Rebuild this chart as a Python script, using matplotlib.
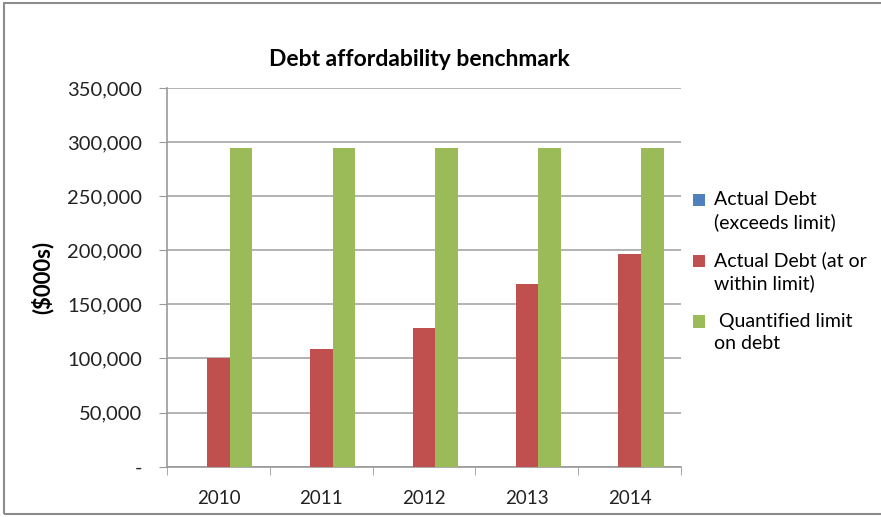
import numpy as np
import matplotlib.pyplot as plt
from matplotlib.patches import Rectangle
from matplotlib.ticker import FuncFormatter
from matplotlib.container import BarContainer
from matplotlib.legend_handler import HandlerPatch

years = ["2010", "2011", "2012", "2013", "2014"]
exceeds = [0, 0, 0, 0, 0]
within = [100000, 109000, 128000, 169000, 197000]
limit = [295000, 295000, 295000, 295000, 295000]
labels = ["Actual Debt\n(exceeds limit)", "Actual Debt (at or\nwithin limit)", " Quantified limit\non debt"]
colors = ["#4F81BD", "#C0504D", "#9BBB59"]

plt.rcParams['font.family'] = ['Lato', 'DejaVu Sans']

fig = plt.figure(figsize=(8.81, 5.17), dpi=100)
ax = fig.add_axes([0.1896, 0.0973, 0.5834, 0.7325])

x = np.arange(len(years))
w = 0.22
for i, vals in enumerate([exceeds, within, limit]):
    ax.bar(x + (i - 1) * w, vals, w, color=colors[i], label=labels[i], zorder=3)

ax.set_xlim(-0.5, len(years) - 0.5)
ax.set_ylim(0, 350000)
ax.set_yticks(np.arange(0, 350001, 50000))
ax.yaxis.set_major_formatter(FuncFormatter(lambda v, p: "-" if v == 0 else f"{int(v):,}"))
ax.set_xticks(x)
ax.set_xticklabels(years)
ax.set_xticks(np.arange(-0.5, len(years), 1), minor=True)
ax.tick_params(axis='x', which='major', length=0, pad=17, labelsize=13.5, colors='#222222')
ax.tick_params(axis='x', which='minor', length=6, color='#999999')
ax.tick_params(axis='y', length=6, labelsize=14.5, pad=12)
ax.tick_params(axis='y', colors='#999999', labelcolor='#222222')

ax.grid(axis='y', color='#a6a6a6', linewidth=1.2, zorder=0)
for s in ['top', 'right']:
    ax.spines[s].set_visible(False)
for s in ['left', 'bottom']:
    ax.spines[s].set_color('#999999')
    ax.spines[s].set_linewidth(1.2)

ax.set_ylabel("($000s)", fontsize=16, fontweight='bold', labelpad=10)
ax.set_title("Debt affordability benchmark", fontsize=16.5, fontweight='bold', pad=16, x=0.49)


# legend squares sit on the first line of each two-line label
def up_patch(legend, orig_handle, xdescent, ydescent, width, height, fontsize):
    return Rectangle((-xdescent, -ydescent + 0.56 * fontsize), width, height)


def first_child(tgt, src):
    tgt.update_from(src.patches[0])


leg = ax.legend(loc='upper left', bbox_to_anchor=(0.99, 0.775), frameon=False,
                fontsize=14, handlelength=0.6, handleheight=0.6, handletextpad=0.45,
                labelspacing=1.05,
                handler_map={BarContainer: HandlerPatch(patch_func=up_patch,
                                                        update_func=first_child)})
for t in leg.get_texts():
    t.set_linespacing(1.35)

fig.patches.append(Rectangle((0.005, 0.005), 1.2, 0.99, transform=fig.transFigure,
                             fill=False, edgecolor='#8c8c8c', linewidth=1.5))

fig.savefig("out.png", dpi=100)
